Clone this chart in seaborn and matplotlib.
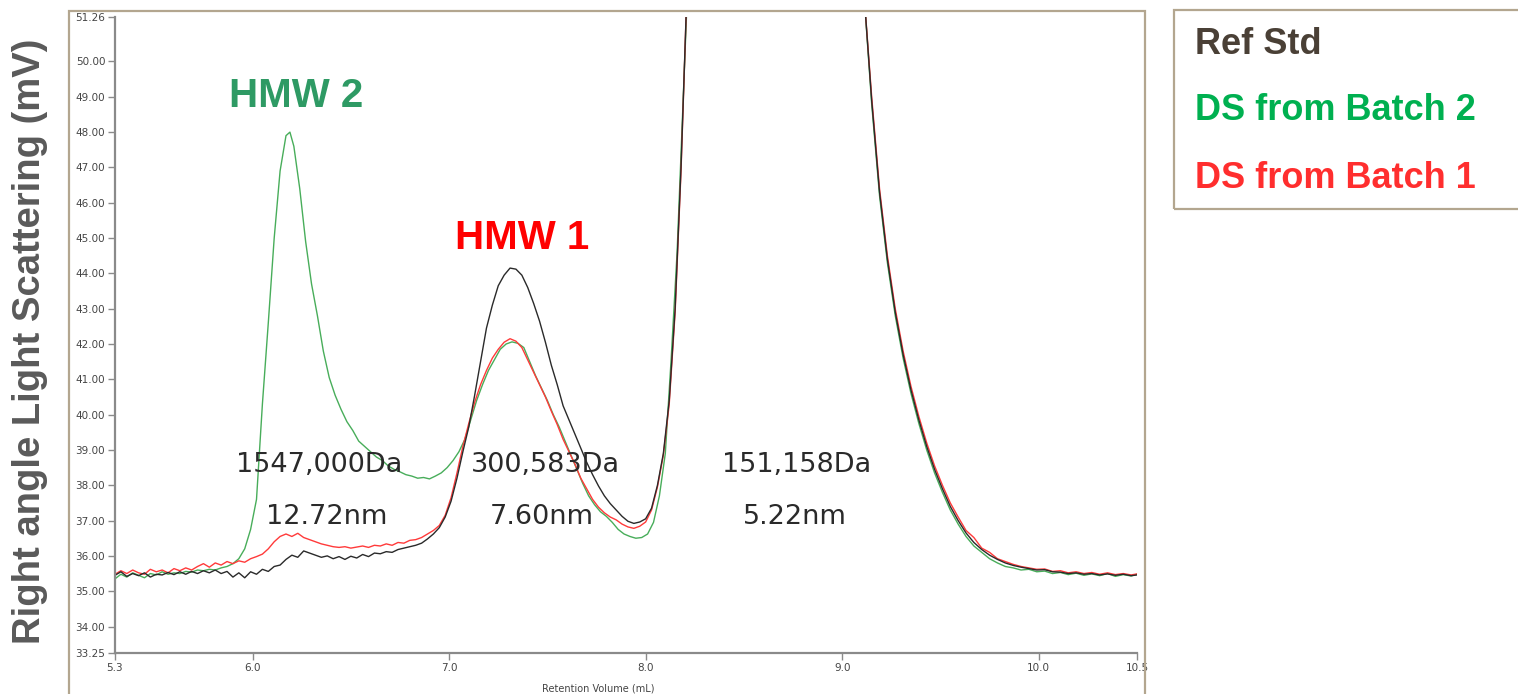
import numpy as np
import pandas as pd
import matplotlib
matplotlib.use("Agg")
import matplotlib.pyplot as plt
from matplotlib.patches import Rectangle
import seaborn as sns

# ---------------- data ----------------
ref_x = [5.30, 5.33, 5.36, 5.39, 5.42, 5.45, 5.48, 5.51, 5.54, 5.57, 5.60, 5.63, 5.66, 5.69, 5.72, 5.75,
         5.78, 5.81, 5.84, 5.87, 5.90, 5.93, 5.96, 5.99, 6.02, 6.05, 6.08, 6.11, 6.14, 6.17, 6.20, 6.23,
         6.26, 6.29, 6.32, 6.35, 6.38, 6.41, 6.44, 6.47, 6.50, 6.53, 6.56, 6.59, 6.62, 6.65, 6.68, 6.71,
         6.74, 6.77, 6.80, 6.83, 6.86, 6.89, 6.92, 6.95, 6.98, 7.01, 7.04, 7.07, 7.10, 7.13, 7.16, 7.19,
         7.22, 7.25, 7.28, 7.31, 7.34, 7.37, 7.40, 7.43, 7.46, 7.49, 7.52, 7.55, 7.58, 7.61, 7.64, 7.67,
         7.70, 7.73, 7.76, 7.79, 7.82, 7.85, 7.88, 7.91, 7.94, 7.97, 8.00, 8.03, 8.06, 8.09, 8.12, 8.15,
         8.18, 8.21, 8.25, 8.35, 8.50, 8.65, 8.80, 8.95, 9.05, 9.11, 9.15, 9.19, 9.23, 9.27, 9.31, 9.35,
         9.39, 9.43, 9.47, 9.51, 9.55, 9.59, 9.63, 9.67, 9.71, 9.75, 9.79, 9.83, 9.87, 9.91, 9.95, 9.99,
         10.03, 10.07, 10.11, 10.15, 10.19, 10.23, 10.27, 10.31, 10.35, 10.39, 10.43, 10.47, 10.50]
ref_y = [35.45, 35.55, 35.42, 35.50, 35.44, 35.52, 35.40, 35.48, 35.46, 35.53, 35.47, 35.55, 35.48, 35.56, 35.50, 35.58,
         35.52, 35.60, 35.50, 35.56, 35.40, 35.52, 35.38, 35.55, 35.48, 35.62, 35.56, 35.70, 35.74, 35.90, 36.02, 35.96,
         36.14, 36.08, 36.02, 35.96, 36.00, 35.92, 35.98, 35.90, 35.99, 35.94, 36.04, 35.98, 36.08, 36.06, 36.12, 36.10,
         36.18, 36.22, 36.26, 36.30, 36.36, 36.48, 36.62, 36.80, 37.10, 37.55, 38.20, 38.95, 39.65, 40.55, 41.50, 42.45,
         43.10, 43.65, 43.95, 44.15, 44.12, 43.95, 43.60, 43.15, 42.65, 42.05, 41.40, 40.85, 40.25, 39.85, 39.45, 39.05,
         38.65, 38.30, 37.98, 37.70, 37.48, 37.30, 37.12, 36.98, 36.92, 36.96, 37.05, 37.35, 38.00, 38.90, 40.40, 43.00,
         47.00, 52.00, 60.00, 80.00, 100.00, 110.00, 100.00, 80.00, 62.00, 52.00, 48.90, 46.30, 44.40, 42.90, 41.70, 40.70,
         39.85, 39.10, 38.45, 37.90, 37.40, 37.00, 36.65, 36.38, 36.18, 36.02, 35.90, 35.80, 35.73, 35.68, 35.64, 35.60,
         35.61, 35.55, 35.54, 35.50, 35.52, 35.48, 35.50, 35.46, 35.49, 35.45, 35.48, 35.44, 35.46]

b2_x = [5.30, 5.33, 5.36, 5.39, 5.42, 5.45, 5.48, 5.51, 5.54, 5.57, 5.60, 5.63, 5.66, 5.69, 5.72, 5.75,
        5.78, 5.81, 5.84, 5.87, 5.90, 5.93, 5.96, 5.99, 6.02, 6.05, 6.08, 6.11, 6.14, 6.17, 6.19, 6.21,
        6.24, 6.27, 6.30, 6.33, 6.36, 6.39, 6.42, 6.45, 6.48, 6.51, 6.54, 6.57, 6.60, 6.63, 6.66, 6.69,
        6.72, 6.75, 6.78, 6.81, 6.84, 6.87, 6.90, 6.93, 6.96, 6.99, 7.02, 7.05, 7.08, 7.11, 7.14, 7.17,
        7.20, 7.23, 7.26, 7.29, 7.32, 7.35, 7.38, 7.41, 7.44, 7.47, 7.50, 7.53, 7.56, 7.59, 7.62, 7.65,
        7.68, 7.71, 7.74, 7.77, 7.80, 7.83, 7.86, 7.89, 7.92, 7.95, 7.98, 8.01, 8.04, 8.07, 8.10, 8.13,
        8.16, 8.19, 8.22, 8.35, 8.50, 8.65, 8.80, 8.95, 9.05, 9.11, 9.15, 9.19, 9.23, 9.27, 9.31, 9.35,
        9.39, 9.43, 9.47, 9.51, 9.55, 9.59, 9.63, 9.67, 9.71, 9.75, 9.79, 9.83, 9.87, 9.91, 9.95, 9.99,
        10.03, 10.07, 10.11, 10.15, 10.19, 10.23, 10.27, 10.31, 10.35, 10.39, 10.43, 10.47, 10.50]
b2_y = [35.35, 35.48, 35.40, 35.52, 35.45, 35.38, 35.50, 35.46, 35.55, 35.48, 35.52, 35.50, 35.56, 35.54, 35.60, 35.58,
        35.62, 35.60, 35.66, 35.70, 35.78, 35.92, 36.20, 36.75, 37.60, 40.30, 42.60, 45.00, 46.90, 47.90, 48.00, 47.60,
        46.40, 44.90, 43.70, 42.80, 41.80, 41.05, 40.55, 40.15, 39.80, 39.55, 39.25, 39.10, 38.95, 38.80, 38.70, 38.55,
        38.45, 38.38, 38.30, 38.26, 38.20, 38.22, 38.18, 38.26, 38.35, 38.50, 38.70, 38.95, 39.30, 39.85, 40.40, 40.85,
        41.25, 41.55, 41.85, 42.00, 42.06, 42.02, 41.90, 41.50, 41.10, 40.75, 40.40, 40.00, 39.65, 39.25, 38.85, 38.45,
        38.05, 37.70, 37.45, 37.25, 37.12, 36.95, 36.75, 36.62, 36.55, 36.50, 36.52, 36.62, 36.95, 37.70, 38.90, 41.60,
        44.60, 48.80, 53.00, 80.00, 100.00, 110.00, 100.00, 80.00, 62.00, 52.00, 48.80, 46.20, 44.30, 42.80, 41.60, 40.60,
        39.75, 39.00, 38.35, 37.80, 37.30, 36.90, 36.55, 36.28, 36.10, 35.92, 35.80, 35.70, 35.66, 35.60, 35.62, 35.55,
        35.57, 35.50, 35.53, 35.47, 35.51, 35.45, 35.49, 35.44, 35.50, 35.42, 35.47, 35.43, 35.48]

b1_x = [5.30, 5.33, 5.36, 5.39, 5.42, 5.45, 5.48, 5.51, 5.54, 5.57, 5.60, 5.63, 5.66, 5.69, 5.72, 5.75,
        5.78, 5.81, 5.84, 5.87, 5.90, 5.93, 5.96, 5.99, 6.02, 6.05, 6.08, 6.11, 6.14, 6.17, 6.20, 6.23,
        6.26, 6.29, 6.32, 6.35, 6.38, 6.41, 6.44, 6.47, 6.50, 6.53, 6.56, 6.59, 6.62, 6.65, 6.68, 6.71,
        6.74, 6.77, 6.80, 6.83, 6.86, 6.89, 6.92, 6.95, 6.98, 7.01, 7.04, 7.07, 7.10, 7.13, 7.16, 7.19,
        7.22, 7.25, 7.28, 7.31, 7.34, 7.37, 7.40, 7.43, 7.46, 7.49, 7.52, 7.55, 7.58, 7.61, 7.64, 7.67,
        7.70, 7.73, 7.76, 7.79, 7.82, 7.85, 7.88, 7.91, 7.94, 7.97, 8.00, 8.03, 8.06, 8.09, 8.12, 8.15,
        8.18, 8.21, 8.25, 8.35, 8.50, 8.65, 8.80, 8.95, 9.05, 9.11, 9.15, 9.19, 9.23, 9.27, 9.31, 9.35,
        9.39, 9.43, 9.47, 9.51, 9.55, 9.59, 9.63, 9.67, 9.71, 9.75, 9.79, 9.83, 9.87, 9.91, 9.95, 9.99,
        10.03, 10.07, 10.11, 10.15, 10.19, 10.23, 10.27, 10.31, 10.35, 10.39, 10.43, 10.47, 10.50]
b1_y = [35.48, 35.58, 35.50, 35.60, 35.52, 35.48, 35.62, 35.55, 35.60, 35.52, 35.64, 35.58, 35.66, 35.60, 35.70, 35.78,
        35.68, 35.80, 35.74, 35.84, 35.78, 35.86, 35.82, 35.92, 35.98, 36.05, 36.20, 36.40, 36.55, 36.62, 36.55, 36.64,
        36.52, 36.46, 36.40, 36.34, 36.30, 36.26, 36.24, 36.26, 36.22, 36.25, 36.28, 36.24, 36.30, 36.28, 36.34, 36.30,
        36.38, 36.36, 36.44, 36.46, 36.52, 36.62, 36.72, 36.86, 37.15, 37.65, 38.35, 39.10, 39.75, 40.35, 40.85, 41.25,
        41.60, 41.85, 42.05, 42.15, 42.08, 41.90, 41.55, 41.20, 40.85, 40.50, 40.10, 39.72, 39.30, 38.95, 38.60, 38.20,
        37.90, 37.60, 37.38, 37.22, 37.10, 37.02, 36.90, 36.82, 36.78, 36.84, 36.96, 37.30, 37.95, 38.85, 40.30, 42.90,
        46.90, 52.00, 60.00, 80.00, 100.00, 110.00, 100.00, 80.00, 62.00, 52.00, 49.00, 46.40, 44.50, 43.00, 41.80, 40.80,
        39.95, 39.20, 38.55, 38.00, 37.50, 37.10, 36.72, 36.52, 36.22, 36.10, 35.92, 35.84, 35.76, 35.70, 35.66, 35.62,
        35.63, 35.56, 35.58, 35.52, 35.55, 35.50, 35.53, 35.48, 35.52, 35.47, 35.50, 35.46, 35.49]

series_names = ["DS from Batch 2", "DS from Batch 1", "Ref Std"]
series_colors = ["#48ad5a", "#ff3a3a", "#2a2a2a"]

x_ticks = [5.3, 6.0, 7.0, 8.0, 9.0, 10.0, 10.5]
x_tick_labels = ["5.3", "6.0", "7.0", "8.0", "9.0", "10.0", "10.5"]
y_ticks = [33.25, 34, 35, 36, 37, 38, 39, 40, 41, 42, 43, 44, 45, 46, 47, 48, 49, 50, 51.26]
y_tick_labels = ["33.25", "34.00", "35.00", "36.00", "37.00", "38.00", "39.00", "40.00", "41.00",
                 "42.00", "43.00", "44.00", "45.00", "46.00", "47.00", "48.00", "49.00", "50.00", "51.26"]

peak_labels = [("1547,000Da", "12.72nm", 6.34, 6.375),
               ("300,583Da", "7.60nm", 7.49, 7.47),
               ("151,158Da", "5.22nm", 8.77, 8.76)]

# ---------------- build frame ----------------
df = pd.concat([
    pd.DataFrame({"vol": b2_x, "ls": b2_y, "sample": "DS from Batch 2"}),
    pd.DataFrame({"vol": b1_x, "ls": b1_y, "sample": "DS from Batch 1"}),
    pd.DataFrame({"vol": ref_x, "ls": ref_y, "sample": "Ref Std"}),
], ignore_index=True)

sns.set_style("white")
plt.rcParams["font.family"] = ["DejaVu Sans"]

fig = plt.figure(figsize=(15.18, 6.94), dpi=100)
ax = fig.add_axes([115 / 1518, 41 / 694, (1137 - 115) / 1518, (677 - 41) / 694])

sns.lineplot(data=df, x="vol", y="ls", hue="sample", hue_order=series_names,
             palette=dict(zip(series_names, series_colors)), estimator=None, sort=False,
             linewidth=1.0, legend=False, ax=ax)

ax.set_xlim(5.3, 10.5)
ax.set_ylim(33.25, 51.26)
ax.set_xticks(x_ticks)
ax.set_xticklabels(x_tick_labels)
ax.set_yticks(y_ticks)
ax.set_yticklabels(y_tick_labels)
ax.tick_params(axis="both", which="major", labelsize=7.5, labelcolor="#444444",
               length=5, width=1.0, color="#8a8a8a", direction="out", pad=2,
               bottom=True, left=True)

for s in ["top", "right"]:
    ax.spines[s].set_visible(False)
for s in ["left", "bottom"]:
    ax.spines[s].set_color("#8a8a8a")
    ax.spines[s].set_linewidth(1.6)

ax.set_xlabel("Retention Volume (mL)", fontsize=7, color="#444444")
ax.xaxis.set_label_coords(0.4726, -0.048)
ax.set_ylabel("Right angle Light Scattering (mV)", fontsize=27.5, fontweight="bold",
              color="#5a5a5a", family="Liberation Sans", va="center")
ax.yaxis.set_label_coords(-0.0832, 0.4906)

# peak annotations
ax.text(6.224, 49.03, "HMW 2", color="#2e9a64", fontsize=29, fontweight="bold",
        family="Liberation Sans", ha="center", va="center")
ax.text(7.37, 45.0, "HMW 1", color="#ff0000", fontsize=29, fontweight="bold",
        family="Liberation Sans", ha="center", va="center")
for da, nm, xda, xnm in peak_labels:
    ax.text(xda, 38.58, da, fontsize=19.5, color="#2a2a2a", ha="center", va="center")
    ax.text(xnm, 37.1, nm, fontsize=19.5, color="#2a2a2a", ha="center", va="center")

# outer frames
frame_col = "#b3a68f"
fig.add_artist(Rectangle((69 / 1518, -0.02), (1145 - 69) / 1518, 0.02 + (694 - 11) / 694,
                         transform=fig.transFigure, fill=False, edgecolor=frame_col,
                         linewidth=1.6, clip_on=False))
fig.add_artist(Rectangle((1174 / 1518, (694 - 209) / 694), 0.3, (209 - 10) / 694,
                         transform=fig.transFigure, fill=False, edgecolor=frame_col,
                         linewidth=1.6, clip_on=False))

legend_entries = [("Ref Std", "#4a4036", 45), ("DS from Batch 2", "#00b050", 110),
                  ("DS from Batch 1", "#ff2e2e", 178)]
for txt, col, ypx in legend_entries:
    fig.text(1195 / 1518, 1 - ypx / 694, txt, color=col, fontsize=26, fontweight="bold",
             family="Liberation Sans", ha="left", va="center")

fig.savefig("out.png", dpi=100)
